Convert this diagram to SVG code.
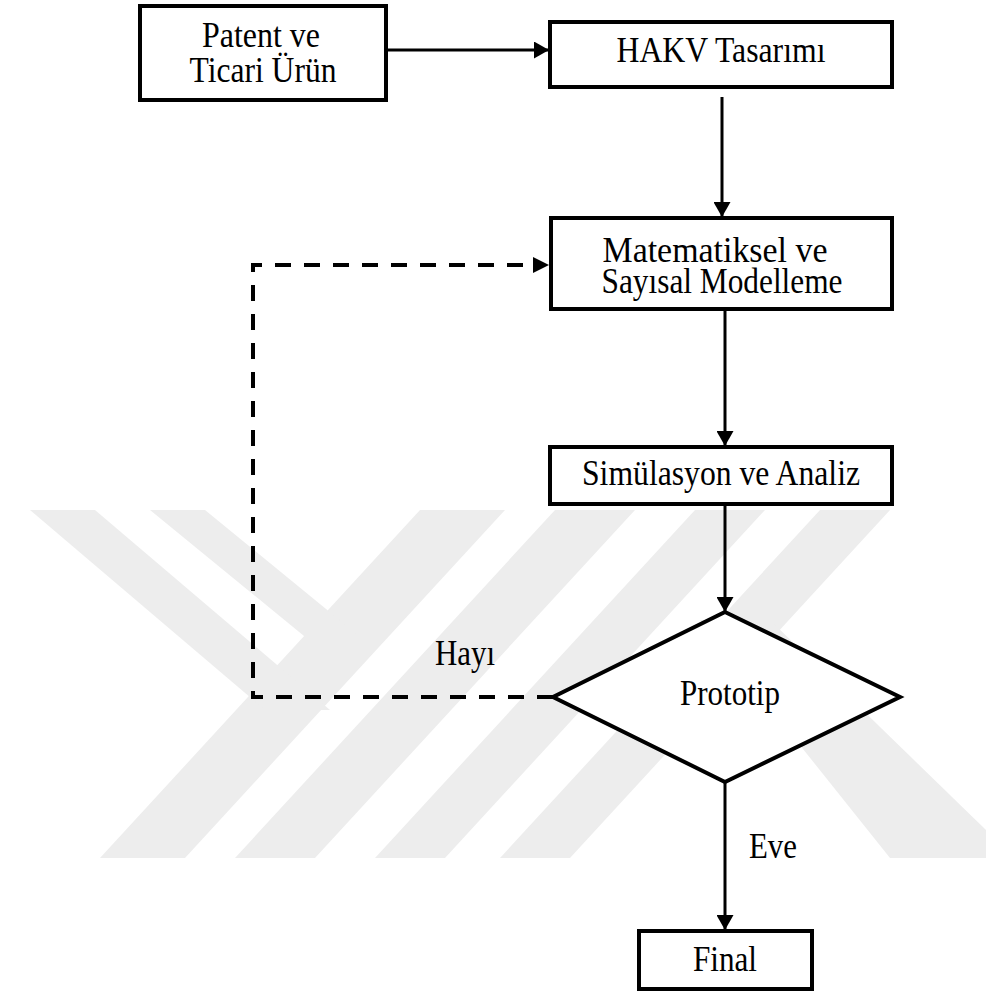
<svg xmlns="http://www.w3.org/2000/svg" width="986" height="993" viewBox="0 0 986 993">
  <style>
    .box { fill: #ffffff; stroke: #000000; stroke-width: 4; }
    .lbl { font-family: "Liberation Serif", "Times New Roman", serif; font-size: 35px; fill: #000000; text-anchor: middle; }
    .edge { fill: none; stroke: #000000; stroke-width: 3; }
    .dash { fill: none; stroke: #000000; stroke-width: 4; stroke-dasharray: 16 13; }
    .wm { fill: #ededed; stroke: none; }
  </style>
  <defs>
    <marker id="arrow" markerUnits="userSpaceOnUse" markerWidth="16" markerHeight="17" refX="15" refY="8.5" orient="auto">
      <path d="M0,0 L15,8.5 L0,17 z" fill="#000000"/>
    </marker>
  </defs>
  <rect x="0" y="0" width="986" height="993" fill="#ffffff"/>

  <g id="watermark">
    <polygon class="wm" points="420,510 505,510 185,858 100,858"/>
    <polygon class="wm" points="555,510 635,510 315,858 235,858"/>
    <polygon class="wm" points="695,510 765,510 445,858 375,858"/>
    <polygon class="wm" points="820,510 890,510 570,858 500,858"/>
    <polygon class="wm" points="30,510 95,510 330,710 265,710"/>
    <polygon class="wm" points="150,510 205,510 370,645 315,645"/>
    <polygon class="wm" points="700,620 770,620 986,830 986,858 890,858"/>
  </g>

  <g id="connectors">
    <line class="edge" x1="387" y1="50" x2="549" y2="50" marker-end="url(#arrow)"/>
    <line class="edge" x1="722" y1="97" x2="722" y2="217" marker-end="url(#arrow)"/>
    <line class="edge" x1="725" y1="310" x2="725" y2="446" marker-end="url(#arrow)"/>
    <line class="edge" x1="725" y1="505" x2="725" y2="612" marker-end="url(#arrow)"/>
    <line class="edge" x1="725" y1="782" x2="725" y2="930" marker-end="url(#arrow)"/>
    <path class="dash" d="M553,697 H253 V265 H535"/>
    <path d="M533,257 L549,265 L533,273 z" fill="#000000"/>
    <text class="lbl" x="465" y="665" textLength="60" lengthAdjust="spacingAndGlyphs">Hayı</text>
    <text class="lbl" x="773" y="858" textLength="48" lengthAdjust="spacingAndGlyphs">Eve</text>
  </g>

  <g id="patent">
    <rect class="box" x="140" y="6" width="246" height="94"/>
    <text class="lbl" x="261" y="47" textLength="118" lengthAdjust="spacingAndGlyphs">Patent ve</text>
    <text class="lbl" x="263" y="82" textLength="147" lengthAdjust="spacingAndGlyphs">Ticari Ürün</text>
  </g>

  <g id="hakv">
    <rect class="box" x="550" y="22" width="342" height="65"/>
    <text class="lbl" x="721" y="62" textLength="209" lengthAdjust="spacingAndGlyphs">HAKV Tasarımı</text>
  </g>

  <g id="modelleme">
    <rect class="box" x="551" y="218" width="341" height="91"/>
    <text class="lbl" x="715" y="262" textLength="225" lengthAdjust="spacingAndGlyphs">Matematiksel ve</text>
    <text class="lbl" x="722" y="293" textLength="241" lengthAdjust="spacingAndGlyphs">Sayısal Modelleme</text>
  </g>

  <g id="simulasyon">
    <rect class="box" x="550" y="447" width="342" height="57"/>
    <text class="lbl" x="721" y="485" textLength="278" lengthAdjust="spacingAndGlyphs">Simülasyon ve Analiz</text>
  </g>

  <g id="prototip">
    <polygon class="box" points="725,612 900,697 725,782 553,697"/>
    <text class="lbl" x="730" y="705" textLength="100" lengthAdjust="spacingAndGlyphs">Prototip</text>
  </g>

  <g id="final">
    <rect class="box" x="639" y="931" width="173" height="58"/>
    <text class="lbl" x="725" y="971" textLength="64" lengthAdjust="spacingAndGlyphs">Final</text>
  </g>
</svg>
